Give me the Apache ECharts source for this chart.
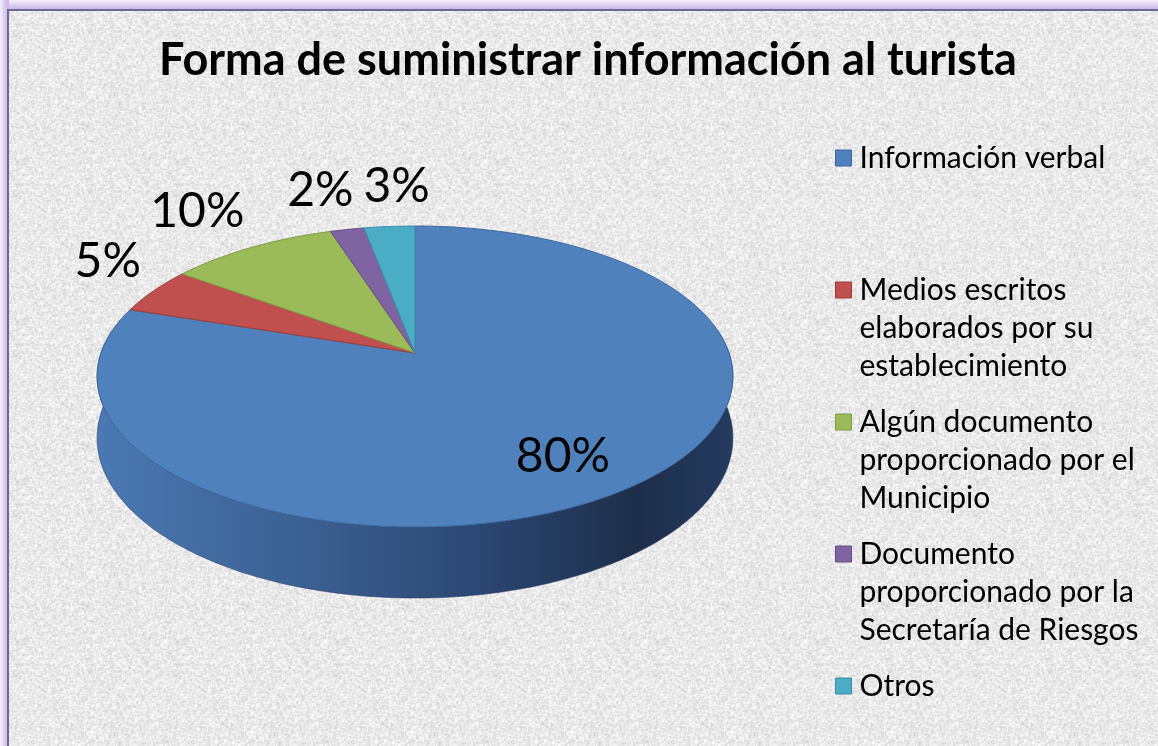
<!DOCTYPE html>
<html lang="es">
<head>
    <meta charset="UTF-8">
    <title>Forma de suministrar información al turista</title>
    <style>
        html, body { margin: 0; padding: 0; width: 1158px; height: 746px; overflow: hidden; }
        body { background: linear-gradient(to bottom, #f4effc 0px, #cdb9e8 9px, #d9c9ee 10px); position: relative; }
        #glow-left { position: absolute; left: 0; top: 0; width: 9px; height: 746px;
            background: linear-gradient(to right, #f4effc 0px, #cdb9e8 7px); }
        #frame { position: absolute; left: 7px; top: 9px; width: 1170px; height: 760px;
            border-left: 2px solid #6e6a8f; border-top: 2px solid #6e6a8f; background-color: #e8e8e8; }
        #main { position: absolute; left: 0; top: 0; width: 1158px; height: 746px; }
    </style>
</head>
<body>
<div id="glow-left"></div>
<div id="frame"></div>
<div id="main"></div>

<script src="https://cdn.jsdelivr.net/npm/echarts@6/dist/echarts.min.js"></script>
<script>
    // datos del gráfico
    var categories = [
        'Información verbal',
        'Medios escritos elaborados por su establecimiento',
        'Algún documento proporcionado por el Municipio',
        'Documento proporcionado por la Secretaría de Riesgos',
        'Otros'
    ];
    var legendLines = [
        ['Información verbal'],
        ['Medios escritos', 'elaborados por su', 'establecimiento'],
        ['Algún documento', 'proporcionado por el', 'Municipio'],
        ['Documento', 'proporcionado por la', 'Secretaría de Riesgos'],
        ['Otros']
    ];
    var values = [80, 5, 10, 2, 3];
    var colors = ['#4f81bd', '#c0504d', '#9bbb59', '#8064a2', '#4bacc6'];
    var edgeColors = ['#3b679c', '#9a3d3a', '#7d9a46', '#634e83', '#388ea6'];

    // textura de fondo (papel granulado)
    (function () {
        var size = 160, cv = document.createElement('canvas');
        cv.width = size; cv.height = size;
        var ctx = cv.getContext('2d');
        var img = ctx.createImageData(size, size);
        function h(x, y) {
            var n = Math.sin(((x + size) % size) * 12.9898 + ((y + size) % size) * 78.233) * 43758.5453;
            return n - Math.floor(n);
        }
        for (var y = 0; y < size; y++) {
            for (var x = 0; x < size; x++) {
                var v = (h(x, y) * 2 + h(x + 1, y) + h(x, y + 1) + h(x - 1, y) + h(x, y - 1)) / 6;
                var g = Math.round(233 + (v - 0.5) * 60);
                var k = (y * size + x) * 4;
                img.data[k] = g; img.data[k + 1] = g; img.data[k + 2] = g; img.data[k + 3] = 255;
            }
        }
        ctx.putImageData(img, 0, 0);
        document.getElementById('frame').style.backgroundImage = 'url(' + cv.toDataURL() + ')';
    })();

    var total = values.reduce(function (a, b) { return a + b; }, 0);
    var labelFont = '48px Lato';

    // proyección en perspectiva del disco
    var cx = 415, cy = 353, A = 314, B = 146.8, p = 0.156, D0 = 60;
    function proj(r, deg, bottom) {
        var a = deg * Math.PI / 180;
        var u = r * Math.sin(a), v = -r * Math.cos(a);
        var w = 1 - p * v;
        return [cx + A * u / w, cy + B * v / w + (bottom ? D0 / w : 0)];
    }
    function arc(from, to, bottom) {
        var pts = [], step = from < to ? 1 : -1;
        for (var d = from; step > 0 ? d < to : d > to; d += step) pts.push(proj(1, d, bottom));
        pts.push(proj(1, to, bottom));
        return pts;
    }
    function startOf(i) {
        var s = 0;
        for (var j = 0; j < i; j++) s += values[j];
        return s / total * 360;
    }

    // posiciones de las etiquetas (ajuste tipo "mejor ajuste")
    var measureCtx = document.createElement('canvas').getContext('2d');
    measureCtx.font = labelFont;
    var labelPos = values.map(function (val, i) {
        var share = val / total;
        var start = startOf(i), mid = start + share * 180;
        var text = Math.round(share * 100) + '%';
        var w = measureCtx.measureText(text).width, h = 40;
        if (share > 0.3) {
            var q = proj(0.75, mid, false);
            return { text: text, x: q[0] - 5, y: q[1] + 5, w: w };
        }
        var a = mid * Math.PI / 180, du = Math.sin(a), dv = -Math.cos(a);
        var e = proj(1, mid, false), g = 20;
        return {
            text: text,
            x: e[0] + Math.sign(du) * w / 2 * Math.min(1, Math.abs(du) * 2) + g * du + 5,
            y: e[1] + Math.sign(dv) * h / 2 + g * dv,
            w: w
        };
    });
    // separar etiquetas que se solapan
    for (var n = 0; n < 3; n++) {
        for (var i = 1; i < labelPos.length; i++) {
            for (var j = i + 1; j < labelPos.length; j++) {
                var L1 = labelPos[i], L2 = labelPos[j];
                if (Math.abs(L1.y - L2.y) > 40) continue;
                var need = (L1.w + L2.w) / 2 + 10, dist = Math.abs(L1.x - L2.x);
                if (dist < need) {
                    var sh = (need - dist) / 2, s = L1.x < L2.x ? 1 : -1;
                    L1.x -= s * sh; L2.x += s * sh;
                }
            }
        }
    }

    function renderSlice(i) {
        return function (params, api) {
            var start = startOf(i);
            var end = start + api.value(0) / total * 360;
            var children = [];

            // pared lateral visible
            var s0 = Math.max(start, 81), s1 = Math.min(end, 279);
            if (s1 > s0) {
                var side = arc(s0, s1, false).concat(arc(s1, s0, true));
                children.push({
                    type: 'polygon',
                    z2: 1,
                    shape: { points: side },
                    style: {
                        fill: new echarts.graphic.LinearGradient(0, 0, 1, 0, [
                            { offset: 0, color: '#4b79b3' },
                            { offset: 0.35, color: '#3a5e8f' },
                            { offset: 0.62, color: '#2a4570' },
                            { offset: 0.85, color: '#1d2e4a' },
                            { offset: 1, color: '#243b60' }
                        ]),
                        stroke: '#2a4268',
                        lineWidth: 0.6
                    }
                });
            }

            // cara superior
            var top = [proj(0, 0, false)].concat(arc(start, end, false));
            children.push({
                type: 'polygon',
                z2: 10,
                shape: { points: top },
                style: { fill: colors[i], stroke: edgeColors[i], lineWidth: 1 }
            });

            // etiqueta de porcentaje
            var lp = labelPos[i];
            children.push({
                type: 'text',
                z2: 20,
                x: lp.x,
                y: lp.y,
                style: {
                    text: lp.text,
                    fill: '#000',
                    font: labelFont,
                    align: 'center',
                    verticalAlign: 'middle'
                }
            });
            return { type: 'group', children: children };
        };
    }

    var series = [];
    for (var i = 0; i < categories.length; i++) {
        series.push({
            name: categories[i],
            type: 'custom',
            coordinateSystem: 'none',
            renderItem: renderSlice(i),
            itemStyle: { color: colors[i], borderColor: edgeColors[i], borderWidth: 1 },
            data: [[values[i]]],
            silent: true
        });
    }

    var chart = echarts.init(document.getElementById('main'), null, { renderer: 'canvas' });
    chart.setOption({
        animation: false,
        backgroundColor: 'transparent',
        title: {
            text: 'Forma de suministrar información al turista',
            left: 154,
            top: 33,
            textStyle: { fontFamily: 'Lato', fontWeight: 'bold', fontSize: 45, color: '#000' }
        },
        legend: {
            orient: 'vertical',
            left: 830,
            top: 58,
            height: 720,
            itemWidth: 16,
            itemHeight: 16,
            itemGap: -58,
            icon: 'rect',
            selectedMode: false,
            data: categories,
            itemStyle: { borderWidth: 1, borderColor: 'inherit' },
            formatter: function (name) {
                var lines = legendLines[categories.indexOf(name)].slice();
                while (lines.length < 3) lines.push('');
                return '\n\n' + lines.join('\n');
            },
            textStyle: { fontFamily: 'Lato', fontSize: 30, lineHeight: 38, color: '#000', padding: [0, 0, 0, 3] }
        },
        series: series
    });
</script>
</body>
</html>
